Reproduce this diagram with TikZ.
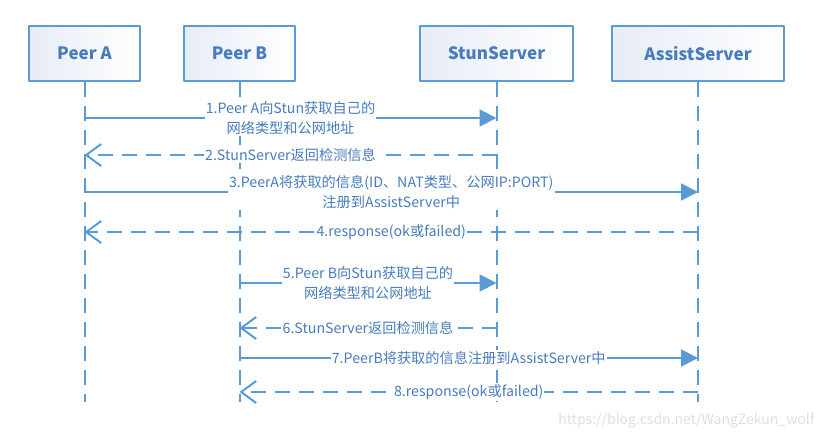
\documentclass[tikz,border=0pt]{standalone}
\usepackage{fontspec}
\setmainfont{Noto Sans CJK SC}
\usetikzlibrary{arrows.meta}
\definecolor{lineblue}{RGB}{91,155,213}
\definecolor{textblue}{RGB}{72,124,190}
\definecolor{boxtint}{RGB}{230,236,247}
\begin{document}
\begin{tikzpicture}[x=1pt,y=-1pt, line join=round,
  font=\fontsize{14.2}{20}\selectfont, text=textblue,
  box/.style={draw=lineblue, line width=2pt, left color=boxtint, right color=white,
    minimum height=55pt, inner sep=0pt, font=\fontsize{17}{20}\selectfont\bfseries},
  life/.style={draw=lineblue, line width=2pt, dash pattern=on 15pt off 9pt},
  msg/.style={draw=lineblue, line width=2pt, -{Triangle[length=17pt,width=17pt]}},
  ret/.style={msg, dash pattern=on 15pt off 9pt, -{Straight Barb[length=15pt,width=22pt]}},
  lbl/.style={midway, fill=white, inner sep=1pt, align=center}]
\useasboundingbox (0,0) rectangle (828,442);
\def\ybox{53.5} \def\yend{402}
% Teilnehmer
\node[box, minimum width=111pt] (pa) at (84.5,\ybox) {Peer A};
\node[box, minimum width=111pt] (pb) at (239.5,\ybox) {Peer B};
\node[box, minimum width=153pt] (ss) at (496.5,\ybox) {StunServer};
\node[box, minimum width=172pt] (as) at (698,\ybox) {AssistServer};
\coordinate (bot) at (0,\yend);
\foreach \p in {pa,pb,ss,as}
  \draw[life] (\p.south) -- (\p.south |- bot);
% Nachrichten
\coordinate (m1) at (0,118); \coordinate (m2) at (0,155);
\coordinate (m3) at (0,192); \coordinate (m4) at (0,232);
\coordinate (m5) at (0,283); \coordinate (m6) at (0,328);
\coordinate (m7) at (0,358); \coordinate (m8) at (0,392);
\draw[msg] (pa |- m1) -- node[lbl]{1.Peer A向Stun获取自己的\\网络类型和公网地址} (ss |- m1);
\draw[ret] (ss |- m2) -- node[lbl]{2.StunServer返回检测信息} (pa |- m2);
\draw[msg] (pa |- m3) -- node[lbl]{3.PeerA将获取的信息(ID、NAT类型、公网IP:PORT)\\注册到AssistServer中} (as |- m3);
\draw[ret] (as |- m4) -- node[lbl]{4.response(ok或failed)} (pa |- m4);
\draw[msg] (pb |- m5) -- node[lbl]{5.Peer B向Stun获取自己的\\网络类型和公网地址} (ss |- m5);
\draw[ret] (ss |- m6) -- node[lbl]{6.StunServer返回检测信息} (pb |- m6);
\draw[msg] (pb |- m7) -- node[lbl]{7.PeerB将获取的信息注册到AssistServer中} (as |- m7);
\draw[ret] (as |- m8) -- node[lbl]{8.response(ok或failed)} (pb |- m8);
\node[text=black!13, font=\fontsize{14}{16}\selectfont, anchor=east] (wm) at (818,421) {https://blog.csdn.net/WangZekun\_wolf};
\end{tikzpicture}
\end{document}
